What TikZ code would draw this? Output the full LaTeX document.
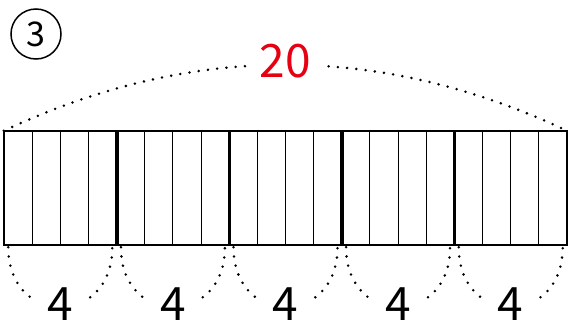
\documentclass[tikz,border=0pt]{standalone}
\usepackage{fontspec}
\setmainfont{Noto Sans CJK JP}
\usetikzlibrary{positioning, calc}
\definecolor{numred}{RGB}{230,0,18}

\begin{document}
\begin{tikzpicture}[x=1pt, y=1pt,
  grp/.style={minimum width=112.6pt, minimum height=114pt, inner sep=0pt},
  cell/.style={line width=1pt},
  sep/.style={line width=3.5pt},
  frame/.style={line width=2pt},
  dots/.style={line width=2.8pt, line cap=round, dash pattern=on 0pt off 9.3pt},
  num/.style={font=\fontsize{46}{46}\selectfont, fill=white, inner xsep=13pt, inner ysep=2pt},
  badge/.style={draw, circle, line width=1.5pt, minimum size=50pt, inner sep=0pt, font=\fontsize{34}{34}\selectfont}]
  \useasboundingbox (0,0) rectangle (568,325);
  \node[badge] (no) at (36,291) {3};
  % five groups of four
  \foreach \i in {1,...,5}
    \node[grp] (g\i) at ({4+112.6*(\i-0.5)},137) {};
  \foreach \i in {1,...,5}
    \foreach \j in {1,2,3}
      \draw[cell] ($(g\i.north west)!\j/4!(g\i.north east)$) -- ($(g\i.south west)!\j/4!(g\i.south east)$);
  \foreach \i in {1,...,4}
    \draw[sep] (g\i.north east) -- (g\i.south east);
  \draw[frame] (g1.north west) rectangle (g5.south east);
  % total
  \draw[dots] (g1.north west) .. controls +(187.7,88) and +(-187.7,88) .. (g5.north east)
    node[num, text=numred, midway, yshift=4pt] (total) {20};
  % parts
  \foreach \i in {1,...,5}
    \draw[dots] ($(g\i.south west)+(4.5,-2)$) .. controls +(0,-80) and +(0,-80) .. ($(g\i.south east)+(-4.5,-2)$)
      node[num, midway, yshift=3pt] (n\i) {4};
\end{tikzpicture}
\end{document}
